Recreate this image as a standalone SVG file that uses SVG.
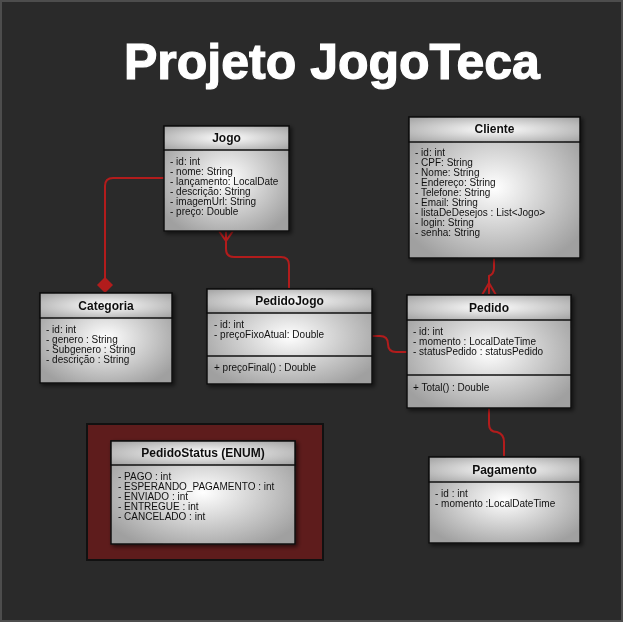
<svg xmlns="http://www.w3.org/2000/svg" width="623" height="622" viewBox="0 0 623 622">
<style>
.box{fill:url(#body);stroke:#111;stroke-width:1.5}
.hdr{fill:url(#head);stroke:#111;stroke-width:1.5}
.sep{stroke:#111;stroke-width:1.5}
.t{font-family:"Liberation Sans",Arial,sans-serif;font-size:12px;font-weight:bold;fill:#111;text-anchor:middle}
.a{font-family:"Liberation Sans",Arial,sans-serif;font-size:10px;fill:#111}
.c{fill:none;stroke:#b21c1c;stroke-width:2}
</style>
<defs>
<radialGradient id="body" cx="0.5" cy="0.5" r="0.6">
<stop offset="0" stop-color="#ffffff"/>
<stop offset="1" stop-color="#a0a0a0"/>
</radialGradient>
<radialGradient id="head" cx="0.5" cy="0.5" r="0.7">
<stop offset="0" stop-color="#ffffff"/>
<stop offset="1" stop-color="#a0a0a0"/>
</radialGradient>
<filter id="sh" x="-10%" y="-10%" width="130%" height="130%">
<feDropShadow dx="2" dy="2" stdDeviation="2" flood-color="#000" flood-opacity="0.6"/>
</filter>
</defs>
<rect x="1" y="1" width="621" height="620" fill="#2a2a2a" stroke="#4d4d4d" stroke-width="2"/>
<text x="124" y="79" font-family="Liberation Sans, Arial, sans-serif" font-size="50" font-weight="bold" fill="#fff" stroke="#fff" stroke-width="1.2">Projeto JogoTeca</text>

<g id="connectors">
<path class="c" d="M164,178 H113 Q105,178 105,186 V278"/>
<polygon points="105,277 113,285 105,293 97,285" fill="#b21c1c"/>
<path class="c" d="M226,231 V249 Q226,257 234,257 H281 Q289,257 289,265 V289"/>
<path class="c" d="M219,231 L226,241 L233,231"/>
<path class="c" d="M372,336 H380 Q388,336 388,344 Q388,352 396,352 H407"/>
<path class="c" d="M494,258 V268 Q494,274 489,276 V295"/>
<path class="c" d="M482,295 L489,283 L496,295"/>
<path class="c" d="M489,408 V424 Q489,432 497,432 Q504,434 504,442 V457"/>
</g>

<g id="jogo" filter="url(#sh)">
<rect class="box" x="164" y="126" width="125" height="105"/>
<rect class="hdr" x="164" y="126" width="125" height="24"/>
<text class="t" x="226.5" y="142">Jogo</text>
<text class="a" x="170" y="165">- id: int</text>
<text class="a" x="170" y="175">- nome: String</text>
<text class="a" x="170" y="185">- lançamento: LocalDate</text>
<text class="a" x="170" y="195">- descrição: String</text>
<text class="a" x="170" y="205">- imagemUrl: String</text>
<text class="a" x="170" y="215">- preço: Double</text>
</g>

<g id="cliente" filter="url(#sh)">
<rect class="box" x="409" y="117" width="171" height="141"/>
<rect class="hdr" x="409" y="117" width="171" height="25"/>
<text class="t" x="494.5" y="133">Cliente</text>
<text class="a" x="415" y="156">- id: int</text>
<text class="a" x="415" y="166">- CPF: String</text>
<text class="a" x="415" y="176">- Nome: String</text>
<text class="a" x="415" y="186">- Endereço: String</text>
<text class="a" x="415" y="196">- Telefone: String</text>
<text class="a" x="415" y="206">- Email: String</text>
<text class="a" x="415" y="216">- listaDeDesejos : List&lt;Jogo&gt;</text>
<text class="a" x="415" y="226">- login: String</text>
<text class="a" x="415" y="236">- senha: String</text>
</g>

<g id="categoria" filter="url(#sh)">
<rect class="box" x="40" y="293" width="132" height="90"/>
<rect class="hdr" x="40" y="293" width="132" height="25"/>
<text class="t" x="106" y="310">Categoria</text>
<text class="a" x="46" y="333">- id: int</text>
<text class="a" x="46" y="343">- genero : String</text>
<text class="a" x="46" y="353">- Subgenero : String</text>
<text class="a" x="46" y="363">- descrição : String</text>
</g>

<g id="pedidojogo" filter="url(#sh)">
<rect class="box" x="207" y="289" width="165" height="95"/>
<rect class="hdr" x="207" y="289" width="165" height="24"/>
<line class="sep" x1="207" y1="356" x2="372" y2="356"/>
<text class="t" x="289.5" y="305">PedidoJogo</text>
<text class="a" x="214" y="328">- id: int</text>
<text class="a" x="214" y="338">- preçoFixoAtual: Double</text>
<text class="a" x="214" y="371">+ preçoFinal() : Double</text>
</g>

<g id="pedido" filter="url(#sh)">
<rect class="box" x="407" y="295" width="164" height="113"/>
<rect class="hdr" x="407" y="295" width="164" height="25"/>
<line class="sep" x1="407" y1="375" x2="571" y2="375"/>
<text class="t" x="489" y="312">Pedido</text>
<text class="a" x="413" y="335">- id: int</text>
<text class="a" x="413" y="345">- momento  : LocalDateTime</text>
<text class="a" x="413" y="355">- statusPedido : statusPedido</text>
<text class="a" x="413" y="391">+ Total() : Double</text>
</g>

<g id="pedidostatus">
<rect x="87" y="424" width="236" height="136" fill="#5e1c1c" stroke="#111" stroke-width="2"/>
<g filter="url(#sh)">
<rect class="box" x="111" y="441" width="184" height="103"/>
<rect class="hdr" x="111" y="441" width="184" height="24"/>
<text class="t" x="203" y="457">PedidoStatus (ENUM)</text>
<text class="a" x="118" y="480">- PAGO : int</text>
<text class="a" x="118" y="490">- ESPERANDO_PAGAMENTO : int</text>
<text class="a" x="118" y="500">- ENVIADO : int</text>
<text class="a" x="118" y="510">- ENTREGUE : int</text>
<text class="a" x="118" y="520">- CANCELADO : int</text>
</g>
</g>

<g id="pagamento" filter="url(#sh)">
<rect class="box" x="429" y="457" width="151" height="86"/>
<rect class="hdr" x="429" y="457" width="151" height="25"/>
<text class="t" x="504.5" y="474">Pagamento</text>
<text class="a" x="435" y="497">- id : int</text>
<text class="a" x="435" y="507">- momento :LocalDateTime</text>
</g>
</svg>
